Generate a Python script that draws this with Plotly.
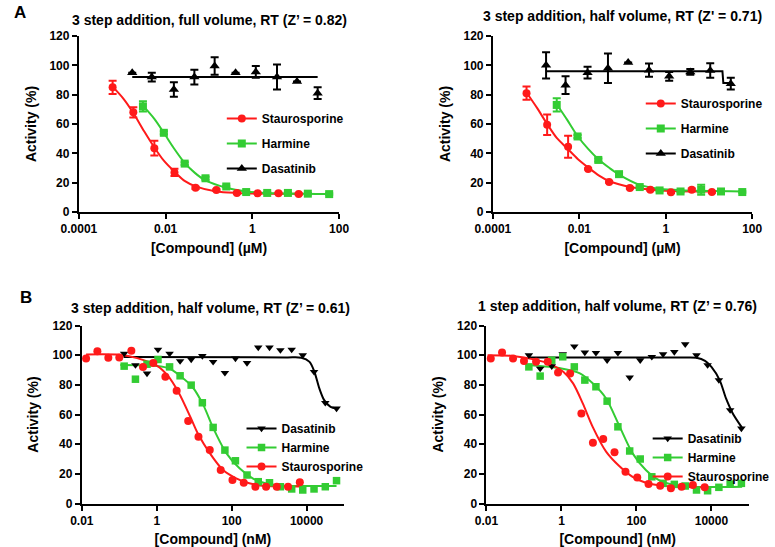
import plotly.graph_objects as go

W, H = 775, 547

# ---------------- Panel A1 : 3 step addition, full volume (µM) ----------------
a_stauro_x = [0.0006, 0.0018, 0.0055, 0.016, 0.049, 0.148, 0.44, 1.32, 4.0, 11.7]
a1_stauro_y = [85, 68, 43.5, 27, 16.5, 15, 13, 12.7, 12.7, 12.3]
a1_stauro_err = [4.5, 3.5, 5, 2.5, 0.8, 0.5, 0.5, 0.5, 0.5, 0.5]
a_harm_x = [0.0030, 0.0091, 0.0275, 0.083, 0.25, 0.72, 2.2, 6.6, 19, 59]
a1_harm_y = [72, 54, 33, 23, 17.4, 13.6, 13, 13, 12.5, 12.2]
a1_harm_err = [3.5, 1, 1, 1, 0.5, 0.5, 0.5, 0.5, 0.5, 0.5]
a_das_x = [0.0017, 0.0048, 0.0155, 0.046, 0.135, 0.41, 1.2, 3.7, 10.7, 32]
a1_das_y = [95, 92, 83.5, 92, 99.5, 95, 95.5, 92, 89, 81]
a1_das_err = [0, 3, 5, 5, 6, 0, 4, 8.5, 0, 4]
# fitted curves
a1_stauro_fit_x = [0.0006, 0.00105, 0.0018, 0.0032, 0.0055, 0.0091, 0.016, 0.028, 0.049, 0.148, 0.44, 1.32, 11.7]
a1_stauro_fit_y = [85.5, 77.5, 67.5, 55, 44, 35, 27.5, 21, 17.5, 14, 13, 12.6, 12.4]
a1_harm_fit_x = [0.003, 0.0055, 0.0091, 0.0155, 0.0275, 0.048, 0.083, 0.25, 0.72, 2.2, 59]
a1_harm_fit_y = [72.5, 63.5, 54, 43.5, 33.5, 26.5, 21.5, 16.5, 14, 13, 12.3]
a1_das_fit_x = [0.0017, 32]
a1_das_fit_y = [92, 92]

# ---------------- Panel A2 : 3 step addition, half volume (µM) ----------------
a2_stauro_y = [81, 59.5, 44.5, 29.4, 20.4, 16.3, 15.2, 13.4, 15.2, 13.6]
a2_stauro_err = [4.5, 7, 7.5, 0.5, 0.5, 0.5, 0.5, 0.5, 0.8, 0.5]
a2_harm_y = [73, 51.5, 35.5, 25.8, 17, 14.7, 14, 15.2, 14, 13.6]
a2_harm_err = [4.5, 1, 1, 1, 0.5, 0.5, 0.5, 3.4, 0.5, 0.5]
a2_das_y = [100, 86.5, 95, 98, 102, 96.7, 92.5, 95.5, 96.5, 87.5]
a2_das_err = [9, 6, 4, 10, 0, 4.5, 3, 2, 5, 4]
a2_stauro_fit_x = [0.0006, 0.00105, 0.0018, 0.003, 0.0054, 0.0093, 0.0166, 0.028, 0.05, 0.155, 0.46, 1.35, 12.6]
a2_stauro_fit_y = [81.5, 71, 60, 50.5, 43, 36, 30, 25, 21, 17, 15.2, 14.4, 14]
a2_harm_fit_x = [0.003, 0.0052, 0.009, 0.016, 0.0275, 0.05, 0.083, 0.25, 0.72, 2.2, 59]
a2_harm_fit_y = [73.5, 63, 52, 43, 36, 30, 25.5, 18.5, 15.8, 14.8, 14]
a2_das_fit_x = [0.0017, 20.5, 21.5, 32]
a2_das_fit_y = [96, 96, 88, 88]

# ---------------- Panel B (nM) ----------------
b_stauro_x = [0.013, 0.026, 0.051, 0.10, 0.21, 0.43, 0.81, 1.7, 3.4, 6.9,
              13, 26, 51, 105, 210, 430, 830, 1600, 3200, 6600]
b_other_x = [0.135, 0.27, 0.55, 1.08, 2.2, 4.2, 8.3, 16.5, 32, 66,
             126, 257, 513, 1023, 2000, 4000, 7900, 15800, 31600, 63000]

b1_stauro_y = [97.8, 102.7, 98.2, 98.4, 102.9, 92.1, 94.8, 85.4, 76, 55.6,
               45, 36, 22.6, 15.8, 14, 11.3, 11.3, 11.3, 11.3, 14.3]
b1_harm_y = [92.6, 83.8, 93.9, 97.1, 92.1, 86.1, 79.8, 67.9, 51.3, 36,
             28.8, 19.2, 14.7, 14, 11.3, 9.8, 9.1, 9.8, 11.3, 15.4]
b1_das_y = [101.1, 93.3, 87.7, 103.8, 101.1, 96, 97.1, 99.5, 95.5, 88.1,
            97.8, 94.8, 105.2, 105.2, 103.4, 103.8, 100, 88.8, 67.9, 64.1]
b1_stauro_fit_x = [0.013, 0.1, 0.3, 1, 2, 4, 8, 12.6, 26, 59, 132, 295, 660, 2000, 6600]
b1_stauro_fit_y = [100.5, 100.3, 98, 93, 86, 74, 58, 47, 34, 22.6, 17, 13.6, 12, 11.6, 11.5]
b1_harm_fit_x = [0.107, 1, 2.2, 4, 8.9, 17.8, 32, 72, 162, 363, 794, 2190, 10000, 63000]
b1_harm_fit_y = [93.3, 92.7, 91, 86.5, 78.7, 66, 51, 34, 23.7, 17, 13.6, 12, 11.8, 11.8]
b1_das_fit_x = [0.13, 3000, 7244, 12000, 16200, 21900, 29500, 43650, 63000]
b1_das_fit_y = [98.7, 98.5, 98.3, 95.5, 88.8, 77.6, 69.7, 65.2, 64.1]

b2_stauro_y = [97.8, 101.8, 97.8, 96, 95.5, 95.5, 88.3, 87.7, 60.7, 40.9,
               43.4, 34.5, 21.4, 17.6, 13.1, 12, 10.2, 11.3, 12.5, 10.9]
b2_harm_y = [92.1, 85.9, 96.6, 98.9, 92.1, 83.2, 78.7, 69, 51.7, 35.4,
             30, 18, 13.6, 12.9, 11.8, 9.1, 8.6, 10.9, 13.1, 13.6]
b2_das_y = [100, 91, 92.6, 100.7, 106, 101.8, 101.6, 96.6, 101.6, 85,
            96.6, 98.9, 100.7, 102.2, 107.4, 100, 93.3, 83.2, 63, 50.6]
b2_stauro_fit_x = [0.0107, 0.05, 0.2, 0.5, 1.12, 2.04, 3.7, 6.8, 15.5, 34.7, 79, 178, 490, 1260, 6460]
b2_stauro_fit_y = [100, 99.5, 97, 94, 88.8, 81, 67.5, 51.7, 35, 25.3, 18, 14, 12, 11.3, 11]
b2_harm_fit_x = [0.126, 1, 3.1, 6.8, 15.5, 34.7, 79, 178, 398, 890, 2950, 66000]
b2_harm_fit_y = [93.3, 91, 87.7, 81, 70.8, 52.5, 33.8, 22.6, 15.8, 12.9, 11.3, 11.3]
b2_das_fit_x = [0.129, 2000, 3980, 6760, 10000, 16600, 24500, 37150, 64600]
b2_das_fit_y = [98.5, 98.4, 98.2, 96.2, 92.1, 83.2, 70.8, 60.7, 51.3]

y_ticks = [0, 20, 40, 60, 80, 100, 120]
a_xticks = [0.0001, 0.01, 1, 100]
a_xticktext = ["0.0001", "0.01", "1", "100"]
b_xticks = [0.01, 1, 100, 10000]
b_xticktext = ["0.01", "1", "100", "10000"]

titles = ["3 step addition, full volume, RT (Z\u2019 = 0.82)",
          "3 step addition, half volume, RT (Z' = 0.71)",
          "3 step addition, half volume, RT (Z\u2019 = 0.61)",
          "1 step addition, half volume, RT (Z\u2019 = 0.76)"]

RED = "#FF1A1A"
GREEN = "#33CC33"
BLACK = "#000000"
FONT = "Liberation Sans, Arial, sans-serif"

fig = go.Figure()


def px_x(p):
    return p / W


def px_y(p):
    return 1 - p / H


def add_panel(idx, series, legend_name):
    xa = "x" if idx == 1 else f"x{idx}"
    ya = "y" if idx == 1 else f"y{idx}"
    for s in series:
        shape = s.get("shape", "spline")
        line = dict(color=s["color"], width=2, shape=shape)
        if shape == "spline":
            line["smoothing"] = 0.8
        fig.add_trace(go.Scatter(
            x=s["fx"], y=s["fy"], mode="lines", xaxis=xa, yaxis=ya,
            line=line, showlegend=False, hoverinfo="skip", cliponaxis=False))
    for s in series:
        err = None
        if s.get("err") is not None:
            err = dict(type="data", array=s["err"], visible=True, color=s["color"],
                       thickness=2, width=4)
        fig.add_trace(go.Scatter(
            x=s["x"], y=s["y"], mode="markers", xaxis=xa, yaxis=ya,
            marker=dict(color=s["color"], symbol=s["symbol"], size=s["size"]),
            error_y=err, showlegend=False, cliponaxis=False, name=s["name"]))
    for s in series:
        fig.add_trace(go.Scatter(
            x=[None], y=[None], mode="lines+markers", xaxis=xa, yaxis=ya,
            name=s["name"], legend=legend_name, legendgroup=f"{legend_name}{s['name']}",
            line=dict(color=s["color"], width=2),
            marker=dict(color=s["color"], symbol=s["symbol"], size=s["size"])))


add_panel(1, [
    dict(name="Staurosporine", x=a_stauro_x, y=a1_stauro_y, err=a1_stauro_err, fx=a1_stauro_fit_x, fy=a1_stauro_fit_y, color=RED, symbol="circle", size=8),
    dict(name="Harmine", x=a_harm_x, y=a1_harm_y, err=a1_harm_err, fx=a1_harm_fit_x, fy=a1_harm_fit_y, color=GREEN, symbol="square", size=8),
    dict(name="Dasatinib", x=a_das_x, y=a1_das_y, err=a1_das_err, fx=a1_das_fit_x, fy=a1_das_fit_y, color=BLACK, symbol="triangle-up", size=9, shape="linear"),
], "legend")

add_panel(2, [
    dict(name="Staurosporine", x=a_stauro_x, y=a2_stauro_y, err=a2_stauro_err, fx=a2_stauro_fit_x, fy=a2_stauro_fit_y, color=RED, symbol="circle", size=8),
    dict(name="Harmine", x=a_harm_x, y=a2_harm_y, err=a2_harm_err, fx=a2_harm_fit_x, fy=a2_harm_fit_y, color=GREEN, symbol="square", size=8),
    dict(name="Dasatinib", x=a_das_x, y=a2_das_y, err=a2_das_err, fx=a2_das_fit_x, fy=a2_das_fit_y, color=BLACK, symbol="triangle-up", size=9, shape="linear"),
], "legend2")

add_panel(3, [
    dict(name="Dasatinib", x=b_other_x, y=b1_das_y, fx=b1_das_fit_x, fy=b1_das_fit_y, color=BLACK, symbol="triangle-down", size=7.5),
    dict(name="Harmine", x=b_other_x, y=b1_harm_y, fx=b1_harm_fit_x, fy=b1_harm_fit_y, color=GREEN, symbol="square", size=7.5),
    dict(name="Staurosporine", x=b_stauro_x, y=b1_stauro_y, fx=b1_stauro_fit_x, fy=b1_stauro_fit_y, color=RED, symbol="circle", size=8),
], "legend3")

add_panel(4, [
    dict(name="Dasatinib", x=b_other_x, y=b2_das_y, fx=b2_das_fit_x, fy=b2_das_fit_y, color=BLACK, symbol="triangle-down", size=7.5),
    dict(name="Harmine", x=b_other_x, y=b2_harm_y, fx=b2_harm_fit_x, fy=b2_harm_fit_y, color=GREEN, symbol="square", size=7.5),
    dict(name="Staurosporine", x=b_stauro_x, y=b2_stauro_y, fx=b2_stauro_fit_x, fy=b2_stauro_fit_y, color=RED, symbol="circle", size=8),
], "legend4")

tickfont = dict(family=FONT, size=12, color="black", weight="bold")
titlefont = dict(family=FONT, size=14, color="black", weight="bold")

panels = [
    (1, (80, 344), (212, 36), [-4, 2], a_xticks, a_xticktext, "[Compound] (\u00b5M)"),
    (2, (500, 763), (212, 36), [-4, 2], a_xticks, a_xticktext, "[Compound] (\u00b5M)"),
    (3, (83, 349), (503.5, 325.5), [-2, 5], b_xticks, b_xticktext, "[Compound] (nM)"),
    (4, (493.5, 759.7), (503.5, 325.5), [-2, 5], b_xticks, b_xticktext, "[Compound] (nM)"),
]

layout = dict(width=W, height=H, margin=dict(l=0, r=0, t=0, b=0),
              paper_bgcolor="white", plot_bgcolor="rgba(0,0,0,0)",
              font=dict(family=FONT, color="black"))

for idx, xd, yd, xr, xt, xtt, xtitle in panels:
    xk = "xaxis" if idx == 1 else f"xaxis{idx}"
    yk = "yaxis" if idx == 1 else f"yaxis{idx}"
    ya = "y" if idx == 1 else f"y{idx}"
    xa = "x" if idx == 1 else f"x{idx}"
    layout[xk] = dict(
        domain=[px_x(xd[0]), px_x(xd[1])], anchor=ya, type="log", range=xr,
        tickvals=xt, ticktext=xtt, showgrid=False, zeroline=False,
        showline=True, linecolor="black", linewidth=2, ticks="outside",
        ticklen=5, tickwidth=2, tickcolor="black", tickfont=tickfont,
        title=dict(text=xtitle, font=titlefont, standoff=8), automargin=False)
    layout[yk] = dict(
        domain=[px_y(yd[0]), px_y(yd[1])], anchor=xa, range=[0, 120],
        tickvals=y_ticks, showgrid=False, zeroline=False,
        showline=True, linecolor="black", linewidth=2, ticks="outside",
        ticklen=5, tickwidth=2, tickcolor="black", tickfont=tickfont,
        title=dict(text="Activity (%)", font=titlefont, standoff=10), automargin=False)

legend_pos = {"legend": (225, 104), "legend2": (650, 89), "legend3": (245, 414), "legend4": (657, 424)}
for name, (lx, ly) in legend_pos.items():
    layout[name] = dict(x=px_x(lx), y=px_y(ly), xanchor="left", yanchor="top",
                        bgcolor="rgba(0,0,0,0)", traceorder="grouped",
                        tracegroupgap=6 if name in ("legend", "legend2") else 0,
                        font=dict(family=FONT, size=12, color="black", weight="bold"),
                        itemclick=False, itemdoubleclick=False)

fig.update_layout(**layout)

title_pos = [(213, 20), (631.5, 15.5), (214, 308), (626, 305.7)]
for t, (tx, ty) in zip(titles, title_pos):
    fig.add_annotation(text=t, xref="paper", yref="paper", x=px_x(tx), y=px_y(ty),
                       xanchor="center", yanchor="middle", showarrow=False,
                       font=dict(family=FONT, size=14, color="black", weight="bold"))

for lab, (lx, ly) in [("A", (20, 12.5)), ("B", (26, 297))]:
    fig.add_annotation(text=lab, xref="paper", yref="paper", x=px_x(lx), y=px_y(ly),
                       xanchor="center", yanchor="middle", showarrow=False,
                       font=dict(family=FONT, size=17, color="black", weight="bold"))

fig.write_html("out.html", config={"displayModeBar": False},
               post_script="document.body.style.margin='0';document.body.style.overflow='hidden';")
